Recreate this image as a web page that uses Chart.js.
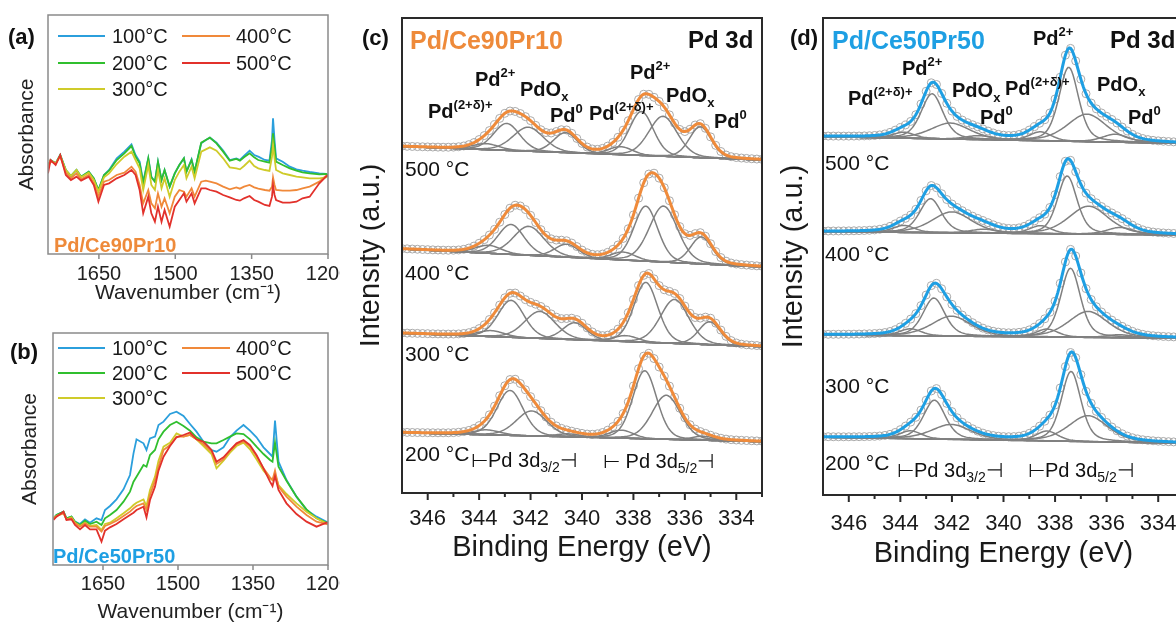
<!DOCTYPE html>
<html>
<head>
<meta charset="utf-8">
<script src="https://cdn.jsdelivr.net/npm/chart.js@4.4.1/dist/chart.umd.min.js"></script>
<style>
  html, body { margin: 0; padding: 0; background: #fff; }
  body { width: 1176px; height: 623px; overflow: hidden; position: relative;
         font-family: 'Liberation Sans', Arial, Helvetica, sans-serif; }
  canvas { position: absolute; }
  .t { position: absolute; white-space: nowrap; line-height: 1; color: #1a1a1a; }
  .t sup, .t sub { position: relative; vertical-align: baseline; line-height: 0; }
  .t sup { font-size: 13px; top: -9px; }
  .t sub { font-size: 14px; top: 5px; }
  .t.b sub { font-size: 13px; }
  .leg { position: absolute; height: 0; border-top: 2px solid; }
</style>
</head>
<body>
<canvas id="ca" width="340" height="310" style="left:0;top:0;width:340px;height:310px"></canvas>
<canvas id="cb" width="340" height="303" style="left:0;top:320px;width:340px;height:303px"></canvas>
<canvas id="cc" width="440" height="570" style="left:360px;top:0;width:440px;height:570px"></canvas>
<canvas id="cd" width="420" height="575" style="left:780px;top:0;width:420px;height:575px"></canvas>
<script>
// ---------- IR data (a) Pd/Ce90Pr10 ----------
const irLabels = ['100°C', '200°C', '300°C', '400°C', '500°C'];
const irColors = ['#2b9fdc', '#30bf2e', '#cfcb2a', '#f0893a', '#e2312b'];
const irTicks = [1200, 1350, 1500, 1650];

const wnA = [1750,1745,1735,1726,1715,1705,1694,1685,1670,1660,1651,1640,1630,1615,1600,1586,1578,1570,1563,1553,
  1547,1540,1534,1527,1521,1511,1501,1492,1483,1478,1468,1462,1449,1440,1432,1419,1406,1393,1380,1373,
  1365,1354,1345,1337,1324,1315,1310,1308,1305,1302,1289,1275,1262,1250,1236,1217,1204,1200];
const a100 = [262,282,272,297,252,234,252,232,247,227,192,237,252,287,307,329,297,277,217,287,
  232,217,277,222,252,202,242,267,287,247,284,247,332,342,349,334,310,282,287,282,
  294,310,297,292,282,280,342,407,342,287,277,262,254,250,246,242,240,237];
const a200 = [262,282,272,297,252,234,252,232,247,227,192,237,250,282,302,324,292,272,212,287,
  230,217,277,222,252,202,242,267,287,247,282,247,334,342,349,332,307,280,285,280,
  290,302,290,282,277,274,322,362,322,277,267,257,250,245,242,239,240,237];
const a300 = [262,280,272,294,252,234,252,230,244,222,187,230,242,270,292,307,282,257,192,267,
  207,192,252,197,227,172,222,247,267,227,262,227,307,314,320,310,287,260,257,254,
  264,280,264,257,252,249,292,327,287,252,242,237,232,230,227,227,230,234];
const a400 = [257,280,270,294,244,227,242,224,237,212,172,217,222,237,244,262,247,207,152,192,
  152,137,182,142,167,122,172,192,187,172,197,172,217,220,217,212,202,194,200,196,
  202,207,200,196,192,190,202,230,207,192,190,190,192,197,202,217,234,234];
const a500 = [242,282,267,297,237,222,232,220,232,207,157,207,212,227,237,252,237,192,122,172,
  122,97,142,97,132,82,142,162,182,157,182,152,197,197,192,187,177,170,162,160,
  167,174,162,157,147,144,172,207,177,162,154,154,157,167,172,212,232,237];

// ---------- IR data (b) Pd/Ce50Pr50 ----------
const wnB = [1749,1743,1729,1723,1713,1706,1696,1686,1676,1663,1653,1646,1636,1623,1609,1596,1589,1583,1569,1563,
  1556,1546,1539,1529,1516,1503,1489,1476,1463,1449,1433,1423,1409,1396,1383,1369,1356,1343,1329,1316,
  1311,1306,1299,1283,1263,1243,1223,1203,1200];
const b100 = [140,150,160,140,145,130,123,137,127,140,135,165,177,197,227,270,335,377,365,345,
  380,385,420,430,453,460,447,423,400,370,345,340,353,383,403,420,403,383,353,333,
  325,433,310,255,205,165,145,130,127];
const b200 = [140,150,160,140,145,130,120,133,123,130,120,140,150,165,190,220,250,265,300,295,
  330,345,377,400,420,430,417,403,383,370,365,365,375,385,395,393,377,355,333,315,
  310,367,295,253,205,167,140,127,125];
const b300 = [140,147,157,137,143,127,117,127,117,120,105,123,127,140,155,170,180,187,197,177,
  225,265,313,355,367,395,385,390,377,357,333,290,313,337,357,367,347,317,283,260,
  255,273,240,213,185,160,140,125,123];
const b400 = [140,147,155,137,140,125,115,125,115,115,100,117,123,133,147,160,170,177,185,165,
  210,253,295,345,360,385,385,390,377,363,340,303,317,343,362,371,355,327,290,263,
  255,283,235,205,175,150,130,123,122];
const b500 = [135,145,160,135,137,120,107,120,107,107,70,103,113,123,137,150,157,165,175,143,
  195,235,283,325,357,383,390,397,377,370,345,310,323,345,365,375,360,330,290,250,
  237,267,225,185,153,130,115,127,127];

// ---------- XPS Pd 3d fits ----------
// component order: Pd(2+δ)+, Pd2+, PdOx, Pd0 ; rows: 500, 400, 300, 200 °C
const xpsTemps = ['500 °C', '400 °C', '300 °C', '200 °C'];
const xpsMajor = [346, 344, 342, 340, 338, 336, 334];
const xpsMinor = [345, 343, 341, 339, 337, 335, 333];

const cCentre = [[338.5, 337.69, 336.85, 335.4], [338.4, 337.52, 336.83, 335.36],
                 [338.3, 337.52, 336.4, 335.04], [338.47, 337.56, 336.72, 335.3]];
const cHeight52 = [[8, 44, 40, 31], [8, 55, 56, 27], [6, 60, 44, 23], [8, 68, 44, 4]];
const cHeight32 = [[6, 27, 24, 20], [8, 30, 29, 13], [6, 37, 27, 17], [5, 45, 25, 3]];
const cBaseLeft = [346.5, 244, 159.7, 60.3];
const cBaseRight = [333, 226, 146.3, 51.3];
const cWidth52 = [1.1, 1.1, 1.3, 1.0];
const cWidth32 = [1.2, 1.2, 1.4, 1.1];
const cSplit = 5.24;

const dCentre = [[338.57, 337.47, 336.76, 335.66], [338.57, 337.53, 336.7, 335.47],
                 [338.31, 337.4, 336.72, 335.5], [338.31, 337.38, 336.72, 335.5]];
const dHeight52 = [[9, 74, 27.5, 8], [8, 58, 28, 7], [8, 69, 26, 3], [10, 70, 26, 0]];
const dHeight32 = [[6, 45, 16, 4], [7, 34, 21, 4], [7, 38, 20, 0], [8, 39, 15, 0]];
const dBaseLeft = [358.3, 263.3, 160, 57.7];
const dBaseRight = [351.5, 260, 156.7, 51.7];
const dWidth52 = [1.0, 0.9, 1.8, 1.2];
const dWidth32 = [1.0, 1.0, 1.8, 1.2];
const dSplit = 5.3;

// ---------- helpers ----------
Chart.defaults.font.family = "'Liberation Sans', Arial, Helvetica, sans-serif";
Chart.defaults.color = '#1a1a1a';

const framePlugin = {
  id: 'frame',
  afterDraw(chart, args, o) {
    const { ctx, chartArea: a } = chart;
    const x = chart.scales.x;
    ctx.save();
    ctx.strokeStyle = o.color;
    ctx.lineWidth = o.width;
    ctx.strokeRect(a.left, a.top, a.right - a.left, a.bottom - a.top);
    ctx.beginPath();
    o.major.forEach(v => { const p = x.getPixelForValue(v); ctx.moveTo(p, a.bottom); ctx.lineTo(p, a.bottom + o.majorLen); });
    (o.minor || []).forEach(v => { const p = x.getPixelForValue(v); ctx.moveTo(p, a.bottom); ctx.lineTo(p, a.bottom + o.minorLen); });
    ctx.stroke();
    ctx.restore();
  }
};

function fitTo(size, horizontal) {
  return s => {
    if (horizontal) s.height = size; else s.width = size;
    s.paddingLeft = s.paddingRight = s.paddingTop = s.paddingBottom = 0;
  };
}

function makeIR(id, wn, series, g) {
  const datasets = series.map((vals, i) => ({
    data: wn.map((w, j) => ({ x: w, y: vals[j] })),
    borderColor: irColors[i], borderWidth: 1.8, pointRadius: 0, tension: 0,
    order: series.length - 1 - i
  }));
  new Chart(document.getElementById(id), {
    type: 'line',
    data: { datasets },
    plugins: [framePlugin],
    options: {
      animation: false, responsive: false, events: [],
      layout: { padding: { left: 0, top: g.top, right: g.right, bottom: 0 } },
      plugins: {
        legend: { display: false }, tooltip: { enabled: false },
        frame: { color: '#8a8a8a', width: 1.5, major: irTicks, majorLen: 5 }
      },
      scales: {
        x: {
          type: 'linear', reverse: true, min: 1200, max: 1750,
          grid: { display: false, drawTicks: false }, border: { display: false },
          afterBuildTicks: s => { s.ticks = irTicks.map(v => ({ value: v })); },
          afterFit: fitTo(g.xh, true),
          ticks: { font: { size: 20 }, padding: g.tickPad, maxRotation: 0, autoSkip: false, color: '#222',
                   callback: v => String(v) },
          title: { display: true, text: 'Wavenumber (cm⁻¹)', font: { size: 21 }, color: '#222',
                   padding: { top: 0, bottom: g.titlePad } }
        },
        y: {
          min: 0, max: g.yMax,
          grid: { display: false, drawTicks: false }, border: { display: false },
          ticks: { display: false },
          afterFit: fitTo(g.yw, false),
          title: { display: true, text: 'Absorbance', font: { size: 21 }, color: '#222',
                   padding: { top: g.yTitlePad, bottom: 0 } }
        }
      }
    }
  });
}

function pv(e, c, h, w, m) {
  const t = (e - c) / w;
  return h * ((1 - m) * Math.exp(-4 * Math.LN2 * t * t) + m / (1 + 4 * t * t));
}

const beGrid = [];
for (let i = 0; i <= 280; i++) beGrid.push(Math.round((347 - i * 0.05) * 100) / 100);

function makeXPS(id, p, g) {
  const datasets = [];
  p.centre.forEach((cen, k) => {
    const bl = e => p.baseLeft[k] + (p.baseRight[k] - p.baseLeft[k]) * (347 - e) / 14;
    const comps = [];
    cen.forEach((c, j) => {
      comps.push([c, p.h52[k][j], p.w52[j]]);
      comps.push([c + p.split, p.h32[k][j], p.w32[j]]);
    });
    const env = beGrid.map(e => ({ x: e, y: bl(e) + comps.reduce((s, q) => s + pv(e, q[0], q[1], q[2], p.mix), 0) }));
    datasets.push({ data: env.filter((_, i) => i % 4 === 0), showLine: false, pointRadius: 4,
                    pointBorderColor: '#a9a9a9', pointBackgroundColor: 'rgba(255,255,255,0)', pointBorderWidth: 1, order: 3 });
    datasets.push({ data: beGrid.map(e => ({ x: e, y: bl(e) })), borderColor: '#808080', borderWidth: 1.5, pointRadius: 0, order: 2 });
    comps.filter(q => q[1] > 0).forEach(q => datasets.push({
      data: beGrid.map(e => ({ x: e, y: bl(e) + pv(e, q[0], q[1], q[2], p.mix) })),
      borderColor: '#808080', borderWidth: 1.5, pointRadius: 0, order: 2
    }));
    datasets.push({ data: env, borderColor: p.color, borderWidth: 3, pointRadius: 0, order: 1 });
  });
  new Chart(document.getElementById(id), {
    type: 'line',
    data: { datasets },
    plugins: [framePlugin],
    options: {
      animation: false, responsive: false, events: [],
      layout: { padding: { left: 0, top: 18, right: g.right, bottom: 0 } },
      plugins: {
        legend: { display: false }, tooltip: { enabled: false },
        frame: { color: '#2a2a2a', width: 2, major: xpsMajor, minor: xpsMinor, majorLen: 7, minorLen: 4 }
      },
      scales: {
        x: {
          type: 'linear', reverse: true, min: 333, max: 347,
          grid: { display: false, drawTicks: false }, border: { display: false },
          afterBuildTicks: s => { s.ticks = xpsMajor.map(v => ({ value: v })); },
          afterFit: fitTo(g.xh, true),
          ticks: { font: { size: 22 }, padding: g.tickPad, maxRotation: 0, autoSkip: false, color: '#1a1a1a',
                   callback: v => String(v) },
          title: { display: true, text: 'Binding Energy (eV)', font: { size: 29 }, color: '#1a1a1a',
                   padding: { top: 0, bottom: g.titlePad } }
        },
        y: {
          min: 0, max: g.yMax,
          grid: { display: false, drawTicks: false }, border: { display: false },
          ticks: { display: false },
          afterFit: fitTo(g.yw, false),
          title: { display: true, text: 'Intensity (a.u.)', font: { size: 29 }, color: '#1a1a1a',
                   padding: { top: g.yTitlePad, bottom: 0 } }
        }
      }
    }
  });
}

makeIR('ca', wnA, [a100, a200, a300, a400, a500],
  { top: 15, right: 12, xh: 56, yw: 48, yMax: 717, tickPad: 8, titlePad: 4, yTitlePad: 15 });
makeIR('cb', wnB, [b100, b200, b300, b400, b500],
  { top: 13, right: 12, xh: 58, yw: 53, yMax: 696, tickPad: 7, titlePad: -2, yTitlePad: 18 });

makeXPS('cc', { centre: cCentre, h52: cHeight52, h32: cHeight32, baseLeft: cBaseLeft, baseRight: cBaseRight,
  w52: cWidth52, w32: cWidth32, split: cSplit, mix: 0.2, color: '#ef8b3b' },
  { right: 38, xh: 77, yw: 42, yMax: 475, tickPad: 13, titlePad: 5, yTitlePad: -6 });
makeXPS('cd', { centre: dCentre, h52: dHeight52, h32: dHeight32, baseLeft: dBaseLeft, baseRight: dBaseRight,
  w52: dWidth52, w32: dWidth32, split: dSplit, mix: 0.4, color: '#1e9fe3' },
  { right: 16, xh: 80, yw: 43, yMax: 477, tickPad: 16, titlePad: 4, yTitlePad: -3 });

// ---------- annotations ----------
const ORANGE = '#ee8a3a', BLUE = '#1e9fe3';
const notes = [
  // [left, capCentreY, size, bold, colour, html]
  [8, 37, 22, 1, '#111', '(a)'],
  [54, 245, 20, 1, ORANGE, 'Pd/Ce90Pr10'],
  [10, 352, 22, 1, '#111', '(b)'],
  [53, 556, 20, 1, BLUE, 'Pd/Ce50Pr50'],
  [362, 38, 22, 1, '#111', '(c)'],
  [410, 40, 25, 1, ORANGE, 'Pd/Ce90Pr10'],
  [688, 40, 24, 1, '#111', 'Pd 3d'],
  [428, 111, 20, 1, '#111', 'Pd<sup>(2+δ)+</sup>'],
  [475, 79, 20, 1, '#111', 'Pd<sup>2+</sup>'],
  [520, 89, 20, 1, '#111', 'PdO<sub>x</sub>'],
  [550, 115, 20, 1, '#111', 'Pd<sup>0</sup>'],
  [589, 113, 20, 1, '#111', 'Pd<sup>(2+δ)+</sup>'],
  [630, 72, 20, 1, '#111', 'Pd<sup>2+</sup>'],
  [666, 95, 20, 1, '#111', 'PdO<sub>x</sub>'],
  [714, 121, 20, 1, '#111', 'Pd<sup>0</sup>'],
  [471, 460, 20, 0, '#111', '⊢Pd 3d<sub>3/2</sub>⊣'],
  [603, 461, 20, 0, '#111', '⊢ Pd 3d<sub>5/2</sub>⊣'],
  [790, 38, 22, 1, '#111', '(d)'],
  [832, 40, 25, 1, BLUE, 'Pd/Ce50Pr50'],
  [1110, 40, 24, 1, '#111', 'Pd 3d'],
  [848, 98, 20, 1, '#111', 'Pd<sup>(2+δ)+</sup>'],
  [902, 68, 20, 1, '#111', 'Pd<sup>2+</sup>'],
  [952, 90, 20, 1, '#111', 'PdO<sub>x</sub>'],
  [980, 117, 20, 1, '#111', 'Pd<sup>0</sup>'],
  [1005, 88, 20, 1, '#111', 'Pd<sup>(2+δ)+</sup>'],
  [1033, 38, 20, 1, '#111', 'Pd<sup>2+</sup>'],
  [1097, 84, 20, 1, '#111', 'PdO<sub>x</sub>'],
  [1128, 117, 20, 1, '#111', 'Pd<sup>0</sup>'],
  [897, 470, 20, 0, '#111', '⊢Pd 3d<sub>3/2</sub>⊣'],
  [1028, 470, 20, 0, '#111', '⊢Pd 3d<sub>5/2</sub>⊣']
];
const cTempY = [168, 272, 353, 453];
const dTempY = [162, 253, 385, 462];
xpsTemps.forEach((t, i) => {
  notes.push([405, cTempY[i], 21, 0, '#111', t]);
  notes.push([825, dTempY[i], 21, 0, '#111', t]);
});

// legends of (a) and (b): [lineX1, lineX2, textX] per column, rows per panel
const legCols = [[58, 105, 112], [182, 230, 236]];
const legSlots = [[0, 0], [0, 1], [0, 2], [1, 0], [1, 1]]; // column,row for each series
const legRowsA = [36, 62.5, 88.5];
const legRowsB = [348, 373, 398];
[legRowsA, legRowsB].forEach(rows => {
  irLabels.forEach((lab, i) => {
    const [c, r] = legSlots[i];
    const [x1, x2, tx] = legCols[c];
    const ln = document.createElement('div');
    ln.className = 'leg';
    ln.style.left = x1 + 'px'; ln.style.width = (x2 - x1) + 'px';
    ln.style.top = (rows[r] - 1) + 'px'; ln.style.borderColor = irColors[i];
    document.body.appendChild(ln);
    notes.push([tx, rows[r], 20, 0, '#1a1a1a', lab]);
  });
});

notes.forEach(n => {
  const d = document.createElement('div');
  d.className = 't' + (n[3] ? ' b' : '');
  d.style.left = n[0] + 'px';
  d.style.top = (n[1] - 0.49 * n[2]) + 'px';
  d.style.fontSize = n[2] + 'px';
  if (n[3]) d.style.fontWeight = 'bold';
  d.style.color = n[4];
  d.innerHTML = n[5];
  document.body.appendChild(d);
});
</script>
</body>
</html>
